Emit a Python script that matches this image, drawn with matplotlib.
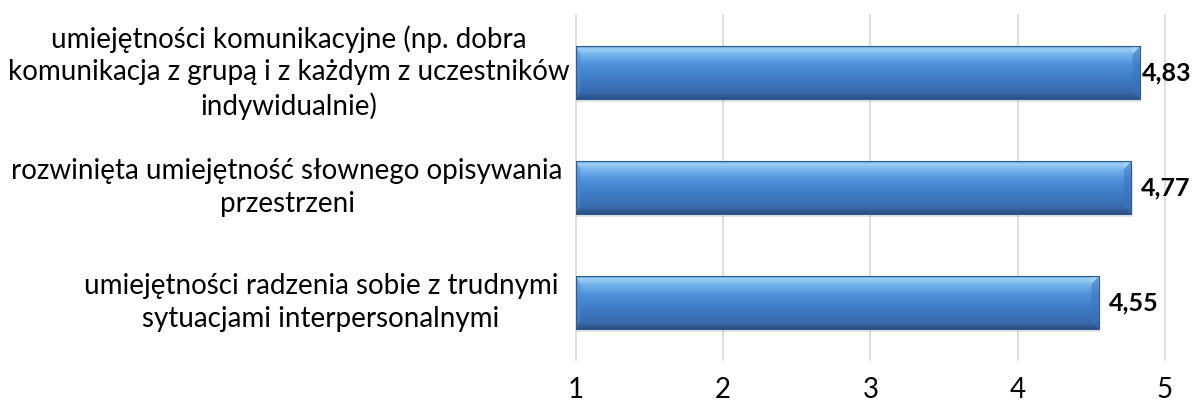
import matplotlib.pyplot as plt
import matplotlib.transforms as mtransforms
import numpy as np
from matplotlib.colors import LinearSegmentedColormap

# -------------------------------
# Datos
# -------------------------------
kategorie = [
    "umiejętności komunikacyjne (np. dobra\nkomunikacja z grupą i z każdym z uczestników\nindywidualnie)",
    "rozwinięta umiejętność słownego opisywania\nprzestrzeni",
    "umiejętności radzenia sobie z trudnymi\nsytuacjami interpersonalnymi",
]
wartosci = [4.83, 4.77, 4.55]
etykiety = ["4,83", "4,77", "4,55"]
ticks_x = [1, 2, 3, 4, 5]

plt.rcParams["font.family"] = ["Lato", "DejaVu Sans"]

W, H = 1194, 408
fig = plt.figure(figsize=(W / 100, H / 100), dpi=100)
ax = fig.add_axes([0.4824, 0.1176, 0.4933, 0.8456])

# gradiente "3D" de las barras
cmap = LinearSegmentedColormap.from_list("bar3d", [
    (0.00, "#5C9BD8"),
    (0.05, "#9ED0F5"),
    (0.15, "#77B6EC"),
    (0.35, "#4E90DA"),
    (0.60, "#3F7DC8"),
    (0.88, "#386AAB"),
    (1.00, "#2A4E80"),
])
grad = np.linspace(0, 1, 256).reshape(-1, 1)

ax.set_xlim(1, 5)
ax.set_ylim(2.5, -0.5)

h = 0.46
bx = 0.05   # ancho del bisel (datos x)
by = 0.07   # alto del bisel (datos y)
for i, v in enumerate(wartosci):
    top, bot = i - h / 2, i + h / 2
    # sombra
    ax.add_patch(plt.Rectangle((1.0, top + 0.03), v - 1 + 0.01, h,
                               facecolor="#000000", alpha=0.10, lw=0, zorder=2))
    ax.imshow(grad, cmap=cmap, aspect="auto", origin="upper",
              extent=(1, v, bot, top), zorder=3)
    # bisel en el extremo derecho
    ax.add_patch(plt.Polygon([(v - bx, top + by), (v, top), (v, bot), (v - bx, bot - by)],
                             closed=True, facecolor="#3A74BE", alpha=0.55, lw=0, zorder=4))
    ax.add_patch(plt.Polygon([(v - bx, top + by), (v, top), (v - bx, top)],
                             closed=True, facecolor="#A8D6F7", alpha=0.7, lw=0, zorder=4))
    ax.add_patch(plt.Polygon([(1, top), (1 + bx * 0.6, top + by), (1 + bx * 0.6, bot - by), (1, bot)],
                             closed=True, facecolor="#4C8AD4", alpha=0.5, lw=0, zorder=4))
    ax.add_patch(plt.Rectangle((1.0, top), v - 1, h, facecolor="none",
                               edgecolor="#2F5B93", lw=0.8, zorder=4))

# etiquetas de valores: 10 px a la derecha, sin salir de la figura
fig.canvas.draw()
renderer = fig.canvas.get_renderer()
for i, v in enumerate(wartosci):
    t = ax.text(v, i, etykiety[i], ha="left", va="center",
                fontsize=18, fontweight="bold", color="black", zorder=5)
    ancho = t.get_window_extent(renderer).width
    x_px = ax.transData.transform((v, i))[0]
    dx = min(10, (W - 3) - (x_px + ancho))
    t.set_transform(ax.transData + mtransforms.Affine2D().translate(dx, 0))

ax.set_xticks(ticks_x)
ax.set_xticklabels([str(t) for t in ticks_x], fontsize=20)
ax.tick_params(axis="x", length=0, pad=12)
ax.set_yticks([])
for s in ax.spines.values():
    s.set_visible(False)
for t in ticks_x:
    ax.axvline(t, color="#D9D9D9", lw=1.2, zorder=1, clip_on=False)

# etiquetas de categorías, centradas a la izquierda
trans = mtransforms.blended_transform_factory(fig.transFigure, ax.transData)
centros = [289 / W, 287 / W, 321 / W]
for i, k in enumerate(kategorie):
    ax.text(centros[i], i, k, transform=trans, ha="center", va="center",
            multialignment="center", fontsize=20, linespacing=1.3)

fig.savefig("out.png", dpi=100)
